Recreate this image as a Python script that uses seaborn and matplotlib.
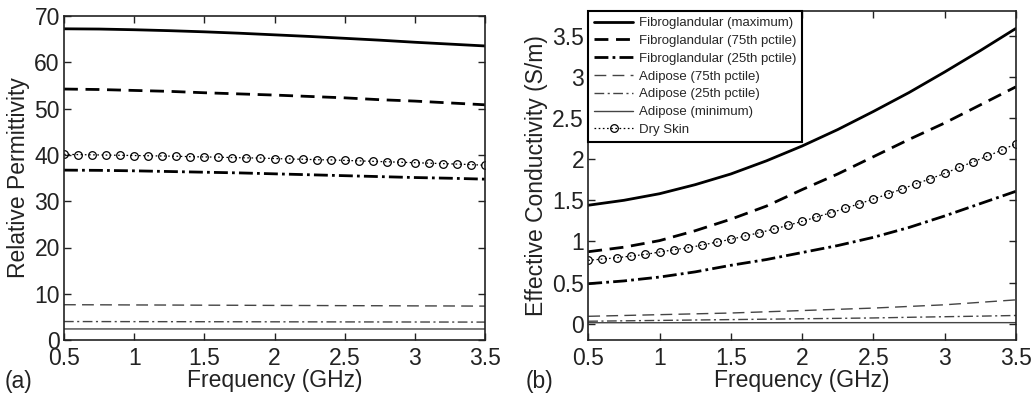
import numpy as np
import pandas as pd
import matplotlib
matplotlib.use("Agg")
import matplotlib.pyplot as plt
import seaborn as sns

# ---------------- data ----------------
freq = [0.5, 0.75, 1.0, 1.25, 1.5, 1.75, 2.0, 2.25, 2.5, 2.75, 3.0, 3.25, 3.5]
freq_skin = [0.5, 0.6, 0.7, 0.8, 0.9, 1.0, 1.1, 1.2, 1.3, 1.4, 1.5, 1.6, 1.7, 1.8, 1.9, 2.0,
             2.1, 2.2, 2.3, 2.4, 2.5, 2.6, 2.7, 2.8, 2.9, 3.0, 3.1, 3.2, 3.3, 3.4, 3.5]

# (a) relative permittivity
eps_fib_max = [67.2, 67.15, 67.0, 66.8, 66.55, 66.25, 65.9, 65.55, 65.15, 64.75, 64.3, 63.9, 63.5]
eps_fib_75 = [54.2, 54.1, 53.9, 53.7, 53.4, 53.15, 52.9, 52.6, 52.3, 51.9, 51.6, 51.2, 50.8]
eps_fib_25 = [36.7, 36.65, 36.55, 36.4, 36.25, 36.1, 35.9, 35.7, 35.5, 35.3, 35.1, 34.95, 34.75]
eps_adi_75 = [7.65, 7.63, 7.6, 7.58, 7.55, 7.53, 7.5, 7.48, 7.45, 7.43, 7.4, 7.38, 7.35]
eps_adi_25 = [4.02, 4.01, 4.0, 3.99, 3.98, 3.97, 3.96, 3.95, 3.94, 3.93, 3.92, 3.91, 3.9]
eps_adi_min = [2.42, 2.42, 2.42, 2.42, 2.42, 2.42, 2.41, 2.41, 2.41, 2.41, 2.41, 2.41, 2.41]
eps_skin = [40.1, 40.05, 40.0, 39.95, 39.9, 39.85, 39.8, 39.75, 39.7, 39.6, 39.55, 39.5, 39.4,
            39.35, 39.3, 39.2, 39.1, 39.05, 38.95, 38.9, 38.8, 38.7, 38.6, 38.5, 38.4, 38.3,
            38.2, 38.1, 38.0, 37.9, 37.75]

# (b) effective conductivity (S/m)
sig_fib_max = [1.44, 1.50, 1.58, 1.69, 1.82, 1.98, 2.16, 2.36, 2.58, 2.81, 3.06, 3.32, 3.59]
sig_fib_75 = [0.875, 0.93, 1.01, 1.13, 1.27, 1.43, 1.63, 1.82, 2.03, 2.24, 2.44, 2.66, 2.88]
sig_fib_25 = [0.486, 0.52, 0.567, 0.63, 0.71, 0.78, 0.865, 0.95, 1.05, 1.17, 1.31, 1.46, 1.61]
sig_adi_75 = [0.09, 0.10, 0.11, 0.12, 0.13, 0.145, 0.16, 0.175, 0.19, 0.21, 0.23, 0.26, 0.29]
sig_adi_25 = [0.03, 0.035, 0.04, 0.045, 0.05, 0.055, 0.06, 0.065, 0.07, 0.078, 0.085, 0.092, 0.10]
sig_adi_min = [0.012, 0.012, 0.012, 0.012, 0.012, 0.012, 0.013, 0.013, 0.013, 0.013, 0.013, 0.013, 0.013]
sig_skin = [0.770, 0.786, 0.802, 0.822, 0.842, 0.871, 0.899, 0.923, 0.956, 0.992, 1.025, 1.066,
            1.106, 1.150, 1.195, 1.244, 1.296, 1.349, 1.401, 1.458, 1.515, 1.576, 1.637, 1.701,
            1.762, 1.827, 1.899, 1.968, 2.037, 2.110, 2.187]

labels = ["Fibroglandular (maximum)", "Fibroglandular (75th pctile)", "Fibroglandular (25th pctile)",
          "Adipose (75th pctile)", "Adipose (25th pctile)", "Adipose (minimum)", "Dry Skin"]

xticks = [0.5, 1, 1.5, 2, 2.5, 3, 3.5]
xticklabels = ["0.5", "1", "1.5", "2", "2.5", "3", "3.5"]
yticks_a = [0, 10, 20, 30, 40, 50, 60, 70]
yticks_b = [0, 0.5, 1, 1.5, 2, 2.5, 3, 3.5]
yticklabels_b = ["0", "0.5", "1", "1.5", "2", "2.5", "3", "3.5"]

# ---------------- style ----------------
sns.set_style("ticks")
plt.rcParams["font.family"] = ["Liberation Sans", "DejaVu Sans"]
plt.rcParams["lines.scale_dashes"] = False

styles = [
    dict(color="black", lw=2.0, ls="-"),
    dict(color="black", lw=2.0, ls=(0, (10, 5.5))),
    dict(color="black", lw=2.0, ls=(0, (10, 3, 2, 3))),
    dict(color="#444444", lw=1.0, ls=(0, (8.5, 4.5))),
    dict(color="#444444", lw=1.0, ls=(0, (7, 2.5, 1.5, 2.5))),
    dict(color="#444444", lw=1.0, ls="-"),
    dict(color="black", lw=0.9, ls=(0, (1.2, 1.8)), marker="o", ms=5.5,
         mfc="none", mec="black", mew=0.9),
]

FS = 16.5
fig = plt.figure(figsize=(10.32, 3.96), dpi=100)
axA = fig.add_axes([0.062, 0.141, 0.408, 0.819])
axB = fig.add_axes([0.570, 0.141, 0.4145, 0.831])


def draw(ax, series, skin):
    for lab, ys, st in zip(labels[:6], series, styles[:6]):
        df = pd.DataFrame({"f": freq, "v": ys})
        sns.lineplot(data=df, x="f", y="v", ax=ax, label=lab, color=st["color"],
                     linewidth=st["lw"], linestyle=st["ls"], legend=False)
    st = styles[6]
    df = pd.DataFrame({"f": freq_skin, "v": skin})
    sns.lineplot(data=df, x="f", y="v", ax=ax, label=labels[6], color=st["color"],
                 linewidth=st["lw"], linestyle=st["ls"], marker=st["marker"],
                 markersize=st["ms"], markerfacecolor=st["mfc"], markeredgecolor=st["mec"],
                 markeredgewidth=st["mew"], legend=False)


draw(axA, [eps_fib_max, eps_fib_75, eps_fib_25, eps_adi_75, eps_adi_25, eps_adi_min], eps_skin)
draw(axB, [sig_fib_max, sig_fib_75, sig_fib_25, sig_adi_75, sig_adi_25, sig_adi_min], sig_skin)

for ax in (axA, axB):
    ax.set_xlim(0.5, 3.5)
    ax.set_xticks(xticks)
    ax.set_xticklabels(xticklabels)
    ax.tick_params(direction="in", top=True, right=True, length=5, width=1,
                   labelsize=FS, colors="#222222")
    ax.tick_params(axis="x", pad=5)
    ax.tick_params(axis="y", pad=3)
    for sp in ax.spines.values():
        sp.set_linewidth(1.2)
        sp.set_color("#222222")
        sp.set_visible(True)
    ax.set_xlabel("Frequency (GHz)", fontsize=FS, color="#222222", labelpad=-1)

axA.set_ylim(0, 70)
axA.set_yticks(yticks_a)
axA.set_ylabel("Relative Permittivity", fontsize=FS, color="#222222", labelpad=3)

axB.set_ylim(-0.2, 3.8)
axB.set_yticks(yticks_b)
axB.set_yticklabels(yticklabels_b)
axB.set_ylabel("Effective Conductivity (S/m)", fontsize=FS, color="#222222", labelpad=3)

leg = axB.legend(loc="upper left", borderaxespad=0, fontsize=9.5, frameon=True,
                 fancybox=False, handlelength=2.95, handletextpad=0.45,
                 labelspacing=0.42, borderpad=0.45)
leg.get_frame().set_edgecolor("black")
leg.get_frame().set_linewidth(1.5)
leg.get_frame().set_alpha(1)

fig.text(0.004, 0.036, "(a)", fontsize=FS, color="#222222", ha="left", va="center")
fig.text(0.509, 0.036, "(b)", fontsize=FS, color="#222222", ha="left", va="center")

fig.savefig("out.png", dpi=100)
